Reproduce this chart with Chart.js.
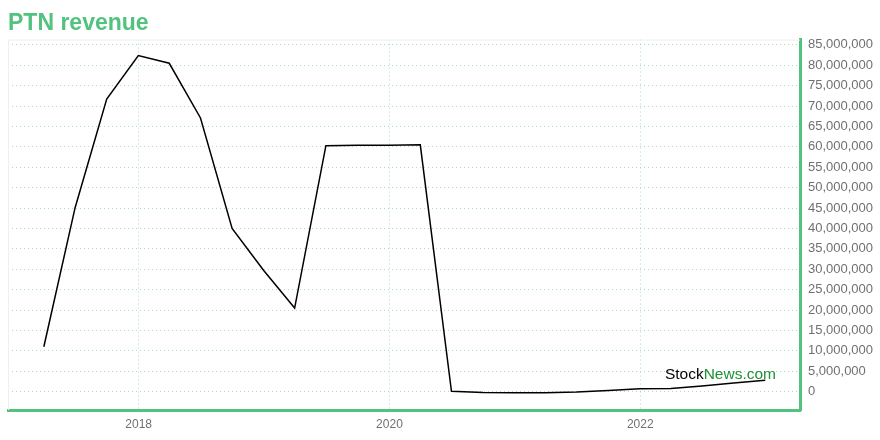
<!DOCTYPE html>
<html>
<head>
    <meta charset="utf-8">
    <title>PTN revenue</title>
    <script src="https://cdn.jsdelivr.net/npm/chart.js@4.4.1/dist/chart.umd.min.js"></script>
    <style>
        html, body {
            margin: 0;
            padding: 0;
            background: #fff;
        }
        #wrap {
            width: 880px;
            height: 440px;
        }
    </style>
</head>
<body>
<div id="wrap">
    <canvas id="revenueChart" width="880" height="440"></canvas>
</div>
<script>
    // quarter end dates and reported revenue
    var quarters = [
        '2017-03-31', '2017-06-30', '2017-09-30', '2017-12-31',
        '2018-03-31', '2018-06-30', '2018-09-30', '2018-12-31',
        '2019-03-31', '2019-06-30', '2019-09-30', '2019-12-31',
        '2020-03-31', '2020-06-30', '2020-09-30', '2020-12-31',
        '2021-03-31', '2021-06-30', '2021-09-30', '2021-12-31',
        '2022-03-31', '2022-06-30', '2022-09-30', '2022-12-31'
    ];
    var revenue = [
        11000000, 45100000, 71700000, 82400000,
        80500000, 67100000, 40000000, 29700000,
        20500000, 60300000, 60400000, 60400000,
        60500000, 100000, -200000, -300000,
        -300000, -100000, 300000, 700000,
        800000, 1400000, 2100000, 2800000
    ];
    var yearTicks = [2018, 2020, 2022];
    var revenueTicks = [
        0, 5000000, 10000000, 15000000, 20000000, 25000000, 30000000, 35000000, 40000000,
        45000000, 50000000, 55000000, 60000000, 65000000, 70000000, 75000000, 80000000, 85000000
    ];

    var green = '#52c27f';
    var gridGreen = 'rgba(82, 194, 127, 0.5)';

    // date string -> decimal year, so a linear scale can stand in for time
    function toYear(s) {
        var p = s.split('-').map(Number);
        var start = Date.UTC(p[0], 0, 1);
        var end = Date.UTC(p[0] + 1, 0, 1);
        return p[0] + (Date.UTC(p[0], p[1] - 1, p[2]) - start) / (end - start);
    }

    var points = quarters.map(function (q, i) {
        return {x: toYear(q), y: revenue[i]};
    });

    var frame = {
        id: 'frame',
        beforeDatasetsDraw: function (chart) {
            var a = chart.chartArea, ctx = chart.ctx;
            ctx.save();
            ctx.strokeStyle = '#eeeeee';
            ctx.lineWidth = 1;
            ctx.beginPath();
            ctx.moveTo(a.left + 0.5, a.bottom);
            ctx.lineTo(a.left + 0.5, a.top + 0.5);
            ctx.lineTo(a.right, a.top + 0.5);
            ctx.stroke();
            ctx.restore();
        },
        afterDraw: function (chart) {
            var a = chart.chartArea, ctx = chart.ctx;
            ctx.save();
            ctx.font = '15.5px "Liberation Sans", Arial, sans-serif';
            ctx.textBaseline = 'alphabetic';
            var w1 = ctx.measureText('Stock').width;
            var w2 = ctx.measureText('News.com').width;
            var x = a.right - 24 - w1 - w2;
            var y = a.bottom - 31.5;
            ctx.fillStyle = '#000000';
            ctx.fillText('Stock', x, y);
            ctx.fillStyle = '#1f9137';
            ctx.fillText('News.com', x + w1, y);
            ctx.restore();
        }
    };

    var ctx = document.getElementById('revenueChart').getContext('2d');
    window.revChart = new Chart(ctx, {
        type: 'line',
        data: {
            datasets: [{
                label: 'PTN revenue',
                data: points,
                borderColor: '#000000',
                borderWidth: 1.5,
                pointRadius: 0,
                tension: 0,
                fill: false
            }]
        },
        options: {
            responsive: false,
            animation: false,
            layout: {
                padding: {left: 8, right: 0, top: 0, bottom: 0}
            },
            plugins: {
                legend: {display: false},
                tooltip: {enabled: false},
                title: {
                    display: true,
                    text: 'PTN revenue',
                    align: 'start',
                    color: green,
                    font: {family: '"Liberation Sans", Arial, sans-serif', size: 23, weight: 'bold'},
                    padding: {top: 10, bottom: 2}
                }
            },
            scales: {
                x: {
                    type: 'linear',
                    min: 2016.958,
                    max: 2023.274,
                    afterBuildTicks: function (scale) {
                        scale.ticks = yearTicks.map(function (v) { return {value: v}; });
                    },
                    afterFit: function (scale) {
                        scale.height = 30;
                    },
                    grid: {
                        color: gridGreen,
                        drawTicks: false,
                        lineWidth: 1
                    },
                    border: {
                        display: true,
                        color: green,
                        width: 3,
                        dash: [1, 3]
                    },
                    ticks: {
                        color: '#707070',
                        padding: 7,
                        maxRotation: 0,
                        font: {family: '"Liberation Sans", Arial, sans-serif', size: 12},
                        callback: function (v) { return String(v); }
                    }
                },
                y: {
                    type: 'linear',
                    position: 'right',
                    min: -4500000,
                    max: 86300000,
                    afterBuildTicks: function (scale) {
                        scale.ticks = revenueTicks.map(function (v) { return {value: v}; });
                    },
                    afterFit: function (scale) {
                        scale.width = 80;
                    },
                    grid: {
                        color: gridGreen,
                        drawTicks: false,
                        lineWidth: 1
                    },
                    border: {
                        display: true,
                        color: green,
                        width: 3,
                        dash: [1, 3]
                    },
                    ticks: {
                        color: '#707070',
                        padding: 8,
                        font: {family: '"Liberation Sans", Arial, sans-serif', size: 13},
                        callback: function (v) { return v.toLocaleString('en-US'); }
                    }
                }
            }
        },
        plugins: [frame]
    });
</script>
</body>
</html>
